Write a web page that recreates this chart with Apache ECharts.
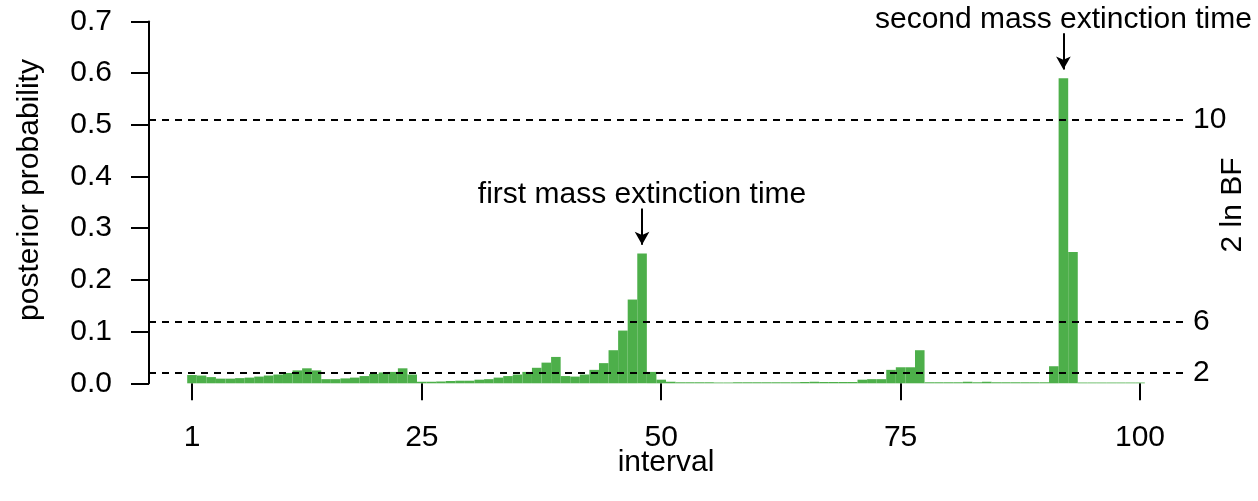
<!DOCTYPE html>
<html>
<head>
<meta charset="utf-8">
<script src="https://cdn.jsdelivr.net/npm/echarts@6/dist/echarts.min.js"></script>
<style>
  html, body { margin: 0; padding: 0; background: #fff; }
  #chart { width: 1258px; height: 501px; }
</style>
</head>
<body>
<div id="chart"></div>
<script>
// ---- data ----
const intervals = Array.from({ length: 100 }, (_, i) => String(i + 1));
const posterior = [
  0.016, 0.015, 0.012, 0.009, 0.009, 0.010, 0.011, 0.013, 0.015, 0.017,
  0.020, 0.025, 0.029, 0.025, 0.008, 0.008, 0.0095, 0.011, 0.014, 0.018,
  0.021, 0.022, 0.029, 0.017, 0.003, 0.003, 0.0035, 0.0045, 0.005, 0.005,
  0.007, 0.008, 0.011, 0.014, 0.017, 0.022, 0.030, 0.040, 0.051, 0.014,
  0.013, 0.017, 0.026, 0.039, 0.064, 0.102, 0.162, 0.251, 0.022, 0.007,
  0.003, 0.002, 0.002, 0.002, 0.002, 0.0015, 0.0015, 0.002, 0.002, 0.002,
  0.002, 0.002, 0.002, 0.002, 0.0025, 0.003, 0.0025, 0.0025, 0.0025, 0.0025,
  0.007, 0.008, 0.008, 0.026, 0.031, 0.031, 0.064, 0.002, 0.002, 0.002,
  0.002, 0.003, 0.002, 0.003, 0.002, 0.002, 0.002, 0.002, 0.002, 0.002,
  0.033, 0.590, 0.254, 0.0015, 0.0015, 0.0015, 0.0015, 0.0015, 0.0015, 0.0015
];
const xTickLabels = ['1', '25', '50', '75', '100'];
const yMin = 0, yMax = 0.7, yStep = 0.1;
const bfThresholds = [0.0185, 0.1222, 0.5068];
const bfLabels = ['2', '6', '10'];
const annotations = [
  { interval: '48', text: 'first mass extinction time' },
  { interval: '92', text: 'second mass extinction time' }
];

// ---- chart ----
const FONT = 'Liberation Sans, Arial, Helvetica, sans-serif';
const FS = 30;
const chart = echarts.init(document.getElementById('chart'), null, { renderer: 'canvas' });

const arrowLines = annotations.map(a => {
  const v = posterior[intervals.indexOf(a.interval)];
  return [
    { name: a.text, coord: [a.interval, v + 0.087] },
    { coord: [a.interval, v + 0.017] }
  ];
});

const option = {
  animation: false,
  backgroundColor: '#fff',
  textStyle: { fontFamily: FONT, color: '#000' },
  grid: [
    { left: 187.2, top: 21.4, width: 957.6, height: 361.9 },
    { left: 149, top: 21.4, width: 1036, height: 361.9 }
  ],
  xAxis: [
    {
      type: 'category', gridIndex: 0, data: intervals, boundaryGap: true,
      axisLine: { show: false },
      axisTick: {
        show: true, alignWithLabel: true, length: 17,
        interval: (idx, val) => xTickLabels.includes(val),
        lineStyle: { color: '#000', width: 2 }
      },
      axisLabel: {
        interval: (idx, val) => xTickLabels.includes(val),
        margin: 39, fontSize: FS, color: '#000', fontFamily: FONT
      },
      splitLine: { show: false }
    },
    { type: 'value', gridIndex: 1, min: 0, max: 1, show: false }
  ],
  yAxis: [
    {
      type: 'value', gridIndex: 0, min: yMin, max: yMax, interval: yStep,
      offset: 38.2,
      axisLine: { show: true, lineStyle: { color: '#000', width: 2 } },
      axisTick: { show: true, length: 18, lineStyle: { color: '#000', width: 2 } },
      axisLabel: {
        margin: 37, fontSize: FS, color: '#000', fontFamily: FONT,
        formatter: v => v.toFixed(1)
      },
      splitLine: { show: false }
    },
    { type: 'value', gridIndex: 1, min: yMin, max: yMax, show: false }
  ],
  series: [
    {
      type: 'bar', xAxisIndex: 0, yAxisIndex: 0,
      data: posterior,
      barCategoryGap: '0%',
      itemStyle: { color: '#4daf4a' },
      silent: true,
      markLine: {
        silent: true,
        symbol: ['none', 'arrow'],
        symbolSize: [11, 13],
        lineStyle: { color: '#000', width: 2, type: 'solid' },
        label: {
          show: true, position: 'start', formatter: '{b}', distance: -1,
          fontSize: FS, color: '#000', fontFamily: FONT
        },
        data: arrowLines
      }
    },
    {
      type: 'line', xAxisIndex: 1, yAxisIndex: 1, data: [],
      silent: true,
      markLine: {
        silent: true,
        symbol: ['none', 'none'],
        lineStyle: { color: '#000', width: 1.8, type: [7, 6] },
        label: {
          show: true, position: 'end', distance: 8,
          fontSize: FS, color: '#000', fontFamily: FONT,
          formatter: p => bfLabels[p.dataIndex]
        },
        data: bfThresholds.map(t => ({ yAxis: t }))
      }
    }
  ],
  graphic: [
    {
      type: 'text', x: 666, y: 463,
      style: { text: 'interval', font: FS + 'px ' + FONT, fill: '#000', textAlign: 'center', textVerticalAlign: 'middle' }
    },
    {
      type: 'text', x: 30, y: 190, rotation: Math.PI / 2,
      style: { text: 'posterior probability', font: FS + 'px ' + FONT, fill: '#000', textAlign: 'center', textVerticalAlign: 'middle' }
    },
    {
      type: 'text', x: 1233, y: 205, rotation: Math.PI / 2,
      style: { text: '2 ln BF', font: FS + 'px ' + FONT, fill: '#000', textAlign: 'center', textVerticalAlign: 'middle' }
    }
  ]
};
chart.setOption(option);
</script>
</body>
</html>
